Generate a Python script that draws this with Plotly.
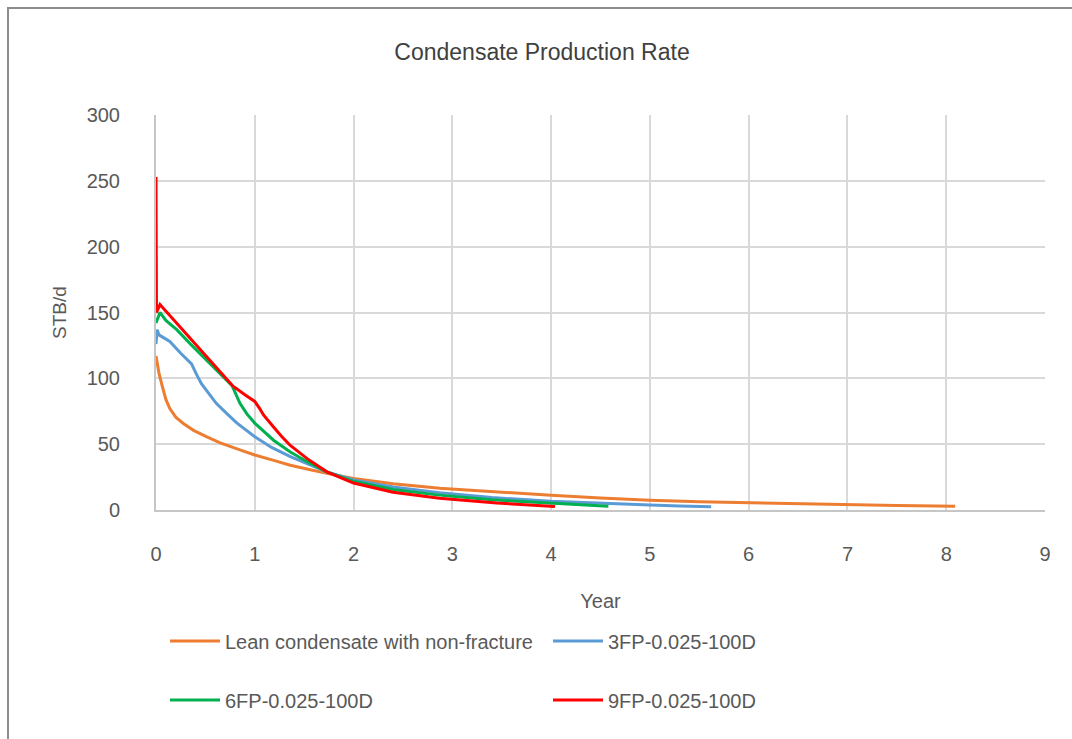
import plotly.graph_objects as go

# Condensate rate (STB/d) versus time (years) for each completion case
lean_t = [0, 0.03, 0.06, 0.1, 0.14, 0.2, 0.28, 0.38, 0.51, 0.65, 0.85, 1.0, 1.2, 1.36,
          1.55, 1.73, 2.0, 2.4, 2.87, 3.4, 4.0, 4.5, 5.0, 5.5, 6.0, 6.5, 7.0, 7.5, 8.09]
lean_q = [117, 104, 95, 84, 77, 70.5, 65.5, 60.5, 55.7, 51, 45.6, 41.8, 37.5, 34,
          30.8, 27.8, 24, 20, 16.5, 13.8, 11.2, 9.2, 7.4, 6.3, 5.5, 4.8, 4.1, 3.5, 2.8]

fp3_t = [0, 0.005, 0.012, 0.03, 0.08, 0.14, 0.25, 0.36, 0.41, 0.46, 0.53, 0.61, 0.72, 0.82,
         1.0, 1.17, 1.36, 1.55, 1.73, 2.0, 2.4, 2.87, 3.4, 4.0, 4.5, 5.0, 5.3, 5.62]
fp3_q = [126, 133, 137, 133, 131, 128, 119, 111, 103, 96, 89, 81, 73, 66,
         55.7, 47.5, 40.5, 34.5, 29, 22.8, 17.5, 13.2, 9.5, 6.6, 5.0, 3.8, 3.1, 2.5]

fp6_t = [0, 0.02, 0.04, 0.1, 0.21, 0.35, 0.51, 0.65, 0.77, 0.85, 0.92, 1.0, 1.1, 1.19,
         1.36, 1.53, 1.73, 2.0, 2.4, 2.87, 3.4, 4.0, 4.3, 4.58]
fp6_q = [142, 147, 150, 144, 137, 126, 114, 104, 94.5, 81, 73, 66, 59, 53,
         44, 36.7, 29, 21.8, 15.5, 11.3, 7.8, 5.1, 3.8, 2.8]

fp9_t = [0, 0.005, 0.04, 0.1, 0.21, 0.35, 0.51, 0.65, 0.78, 0.9, 1.0, 1.05, 1.09, 1.19,
         1.27, 1.36, 1.45, 1.53, 1.73, 2.0, 2.4, 2.87, 3.45, 4.04]
fp9_q = [253, 150, 156, 151, 142, 130, 116.5, 105, 94, 87.5, 82.5, 77, 72, 63,
         56, 49, 43.5, 39, 29, 20.5, 13.5, 8.9, 5.3, 2.7]

x_ticks = [0, 1, 2, 3, 4, 5, 6, 7, 8, 9]
y_ticks = [0, 50, 100, 150, 200, 250, 300]

series = [
    ("Lean condensate with non-fracture", lean_t, lean_q, "#ED7D31", "legend"),
    ("3FP-0.025-100D", fp3_t, fp3_q, "#5B9BD5", "legend"),
    ("6FP-0.025-100D", fp6_t, fp6_q, "#00B050", "legend2"),
    ("9FP-0.025-100D", fp9_t, fp9_q, "#FF0000", "legend2"),
]

FONT = "Liberation Sans, Arial, sans-serif"
TXT = "#595959"

fig = go.Figure()
for name, t, q, color, leg in series:
    fig.add_trace(go.Scatter(
        x=t, y=q, name=name, mode="lines",
        line=dict(color=color, width=3),
        legend=leg,
    ))

legend_common = dict(
    orientation="h", xanchor="left", yanchor="middle",
    entrywidth=318, entrywidthmode="pixels", itemwidth=50,
    font=dict(family=FONT, size=20, color=TXT),
    bgcolor="rgba(0,0,0,0)", borderwidth=0,
)

fig.update_layout(
    width=1072, height=739,
    margin=dict(l=156, r=27, t=115, b=229),
    paper_bgcolor="white", plot_bgcolor="white",
    font=dict(family=FONT, color=TXT),
    title=dict(text="Condensate Production Rate", x=0.5056, xanchor="center",
               y=1 - 52 / 739, yanchor="middle",
               font=dict(family=FONT, size=23, color="#404040")),
    xaxis=dict(
        range=[0, 9], tickvals=x_ticks, showgrid=True, gridcolor="#d9d9d9", gridwidth=1.5,
        showline=True, linecolor="#c6c6c6", linewidth=2, zeroline=False,
        ticks="", ticklabelstandoff=25, tickfont=dict(size=20, color=TXT),
        title=dict(text="Year", standoff=30, font=dict(size=20, color=TXT)),
    ),
    yaxis=dict(
        range=[0, 300], tickvals=y_ticks, showgrid=True, gridcolor="#d9d9d9", gridwidth=1.5,
        showline=True, linecolor="#c6c6c6", linewidth=2, zeroline=False,
        ticks="", ticklabelstandoff=30, tickfont=dict(size=20, color=TXT),
        title=dict(text="STB/d", standoff=15, font=dict(size=19, color=TXT)),
    ),
    legend=dict(x=(165 - 156) / 889, y=(510 - 641) / 395, **legend_common),
    legend2=dict(x=(165 - 156) / 889, y=(510 - 700) / 395, **legend_common),
    shapes=[dict(
        type="rect", xref="paper", yref="paper",
        x0=(8 - 156) / 889, x1=1.2, y0=-1.0, y1=(510 - 8) / 395,
        line=dict(color="#8c8c8c", width=2), fillcolor="rgba(0,0,0,0)", layer="below",
    )],
)

fig.write_html("out.html")
